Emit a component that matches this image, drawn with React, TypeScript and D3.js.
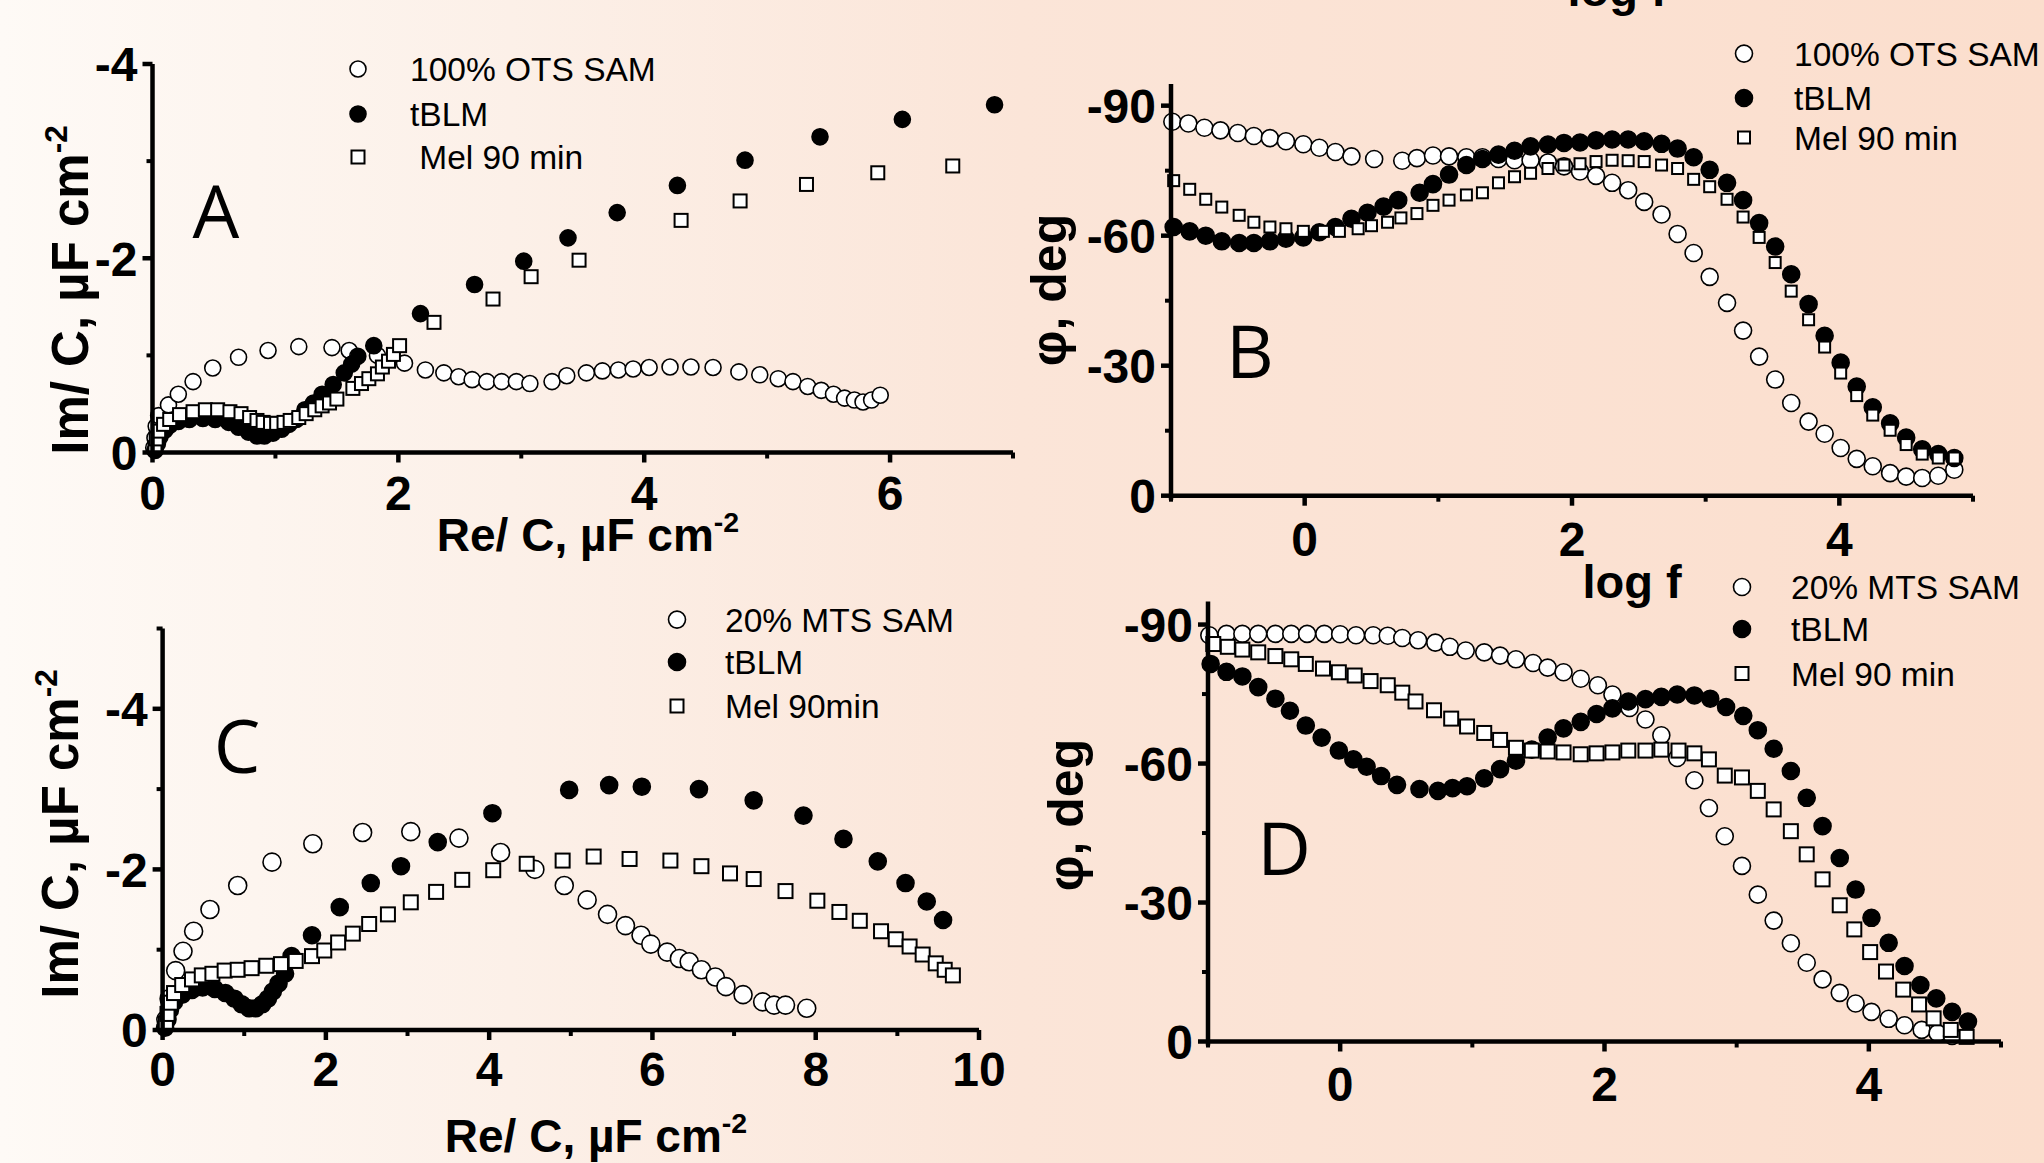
import * as d3 from "d3";

type Pt = [number, number];

// ---- panel A: Cole-Cole, 100% OTS SAM ----
const aOts: Pt[] = [[0.01,-0.05],[0.02,-0.15],[0.03,-0.27],[0.05,-0.38],[0.13,-0.49],[0.21,-0.6],[0.33,-0.73],[0.49,-0.87],[0.7,-0.98],[0.94,-1.05],[1.19,-1.09],[1.46,-1.08],[1.6,-1.05],[1.83,-1.0],[2.05,-0.92],[2.22,-0.85],[2.37,-0.82],[2.49,-0.78],[2.6,-0.75],[2.72,-0.73],[2.84,-0.73],[2.96,-0.73],[3.07,-0.71],[3.25,-0.73],[3.37,-0.79],[3.53,-0.82],[3.66,-0.84],[3.79,-0.85],[3.91,-0.86],[4.04,-0.875],[4.21,-0.88],[4.38,-0.88],[4.56,-0.875],[4.77,-0.83],[4.94,-0.8],[5.09,-0.76],[5.21,-0.73],[5.33,-0.68],[5.44,-0.64],[5.54,-0.6],[5.63,-0.56],[5.71,-0.54],[5.78,-0.52],[5.85,-0.54],[5.92,-0.59]];
const aTblm: Pt[] = [[0.02,-0.02],[0.04,-0.09],[0.06,-0.16],[0.1,-0.23],[0.14,-0.28],[0.21,-0.32],[0.3,-0.34],[0.41,-0.35],[0.51,-0.34],[0.62,-0.31],[0.7,-0.26],[0.78,-0.21],[0.85,-0.17],[0.91,-0.17],[0.98,-0.2],[1.05,-0.24],[1.11,-0.29],[1.17,-0.34],[1.24,-0.44],[1.31,-0.51],[1.38,-0.6],[1.47,-0.7],[1.56,-0.82],[1.62,-0.91],[1.67,-0.99],[1.8,-1.1],[2.18,-1.43],[2.62,-1.73],[3.02,-1.97],[3.38,-2.21],[3.78,-2.47],[4.27,-2.75],[4.82,-3.01],[5.43,-3.25],[6.1,-3.43],[6.85,-3.58]];
const aMel: Pt[] = [[0.02,-0.05],[0.03,-0.14],[0.05,-0.22],[0.09,-0.29],[0.14,-0.34],[0.22,-0.39],[0.33,-0.42],[0.43,-0.44],[0.53,-0.44],[0.63,-0.42],[0.72,-0.4],[0.79,-0.36],[0.85,-0.33],[0.9,-0.31],[0.96,-0.3],[1.01,-0.3],[1.07,-0.31],[1.12,-0.33],[1.19,-0.36],[1.25,-0.4],[1.32,-0.44],[1.38,-0.48],[1.44,-0.51],[1.5,-0.55],[1.63,-0.66],[1.7,-0.71],[1.76,-0.76],[1.83,-0.81],[1.87,-0.88],[1.92,-0.94],[1.96,-1.01],[2.01,-1.1],[2.29,-1.34],[2.77,-1.58],[3.08,-1.81],[3.47,-1.98],[4.3,-2.39],[4.78,-2.59],[5.32,-2.76],[5.9,-2.88],[6.51,-2.95]];

// ---- panel B: phase vs log f, 100% OTS SAM ----
const bOts: Pt[] = [[-0.99,-86.3],[-0.87,-85.9],[-0.75,-84.9],[-0.63,-84.3],[-0.5,-83.7],[-0.38,-83.0],[-0.26,-82.5],[-0.14,-81.8],[-0.01,-81.1],[0.11,-80.3],[0.23,-79.3],[0.35,-78.3],[0.52,-77.7],[0.73,-77.3],[0.84,-77.9],[0.96,-78.5],[1.08,-78.3],[1.21,-78.1],[1.33,-78.1],[1.45,-77.7],[1.57,-77.4],[1.69,-77.4],[1.82,-76.9],[1.94,-76.0],[2.06,-74.8],[2.18,-73.8],[2.3,-72.2],[2.42,-70.5],[2.54,-67.8],[2.67,-64.9],[2.79,-60.4],[2.91,-56.0],[3.03,-50.5],[3.16,-44.5],[3.28,-38.1],[3.4,-32.1],[3.52,-26.8],[3.64,-21.4],[3.77,-17.1],[3.89,-14.3],[4.01,-11.0],[4.13,-8.5],[4.25,-6.8],[4.38,-5.2],[4.5,-4.4],[4.62,-4.1],[4.74,-4.6],[4.86,-6.0]];
const bTblm: Pt[] = [[-0.98,-62.0],[-0.86,-61.0],[-0.74,-60.0],[-0.62,-58.7],[-0.49,-58.3],[-0.38,-58.3],[-0.26,-58.7],[-0.14,-59.3],[-0.01,-59.6],[0.11,-60.8],[0.23,-62.0],[0.35,-63.9],[0.47,-65.3],[0.59,-66.7],[0.7,-68.2],[0.86,-69.9],[0.96,-71.9],[1.08,-74.1],[1.21,-76.3],[1.33,-77.7],[1.45,-78.7],[1.57,-79.6],[1.69,-80.6],[1.82,-81.0],[1.94,-81.4],[2.06,-81.5],[2.18,-82.0],[2.3,-82.2],[2.42,-82.2],[2.54,-81.8],[2.67,-81.2],[2.79,-80.1],[2.91,-78.1],[3.03,-75.2],[3.16,-72.2],[3.28,-68.2],[3.4,-62.9],[3.52,-57.5],[3.64,-51.1],[3.77,-44.2],[3.89,-36.9],[4.01,-30.7],[4.13,-25.2],[4.25,-20.4],[4.38,-16.7],[4.5,-13.4],[4.62,-10.7],[4.74,-9.6],[4.86,-8.7]];
const bMel: Pt[] = [[-0.98,-72.7],[-0.86,-70.7],[-0.74,-68.4],[-0.62,-66.6],[-0.49,-64.7],[-0.38,-63.1],[-0.26,-62.0],[-0.14,-61.6],[-0.01,-61.0],[0.14,-61.0],[0.26,-61.0],[0.4,-61.6],[0.5,-62.3],[0.62,-63.1],[0.72,-64.1],[0.84,-65.1],[0.96,-67.0],[1.08,-68.2],[1.21,-69.4],[1.33,-69.9],[1.45,-72.2],[1.57,-73.6],[1.69,-74.4],[1.82,-75.5],[1.94,-76.3],[2.06,-76.6],[2.18,-77.1],[2.3,-77.4],[2.42,-77.3],[2.54,-77.1],[2.67,-76.3],[2.79,-75.5],[2.91,-73.0],[3.03,-71.3],[3.16,-68.4],[3.28,-64.3],[3.4,-59.6],[3.52,-53.8],[3.64,-47.2],[3.77,-40.6],[3.89,-34.3],[4.01,-28.3],[4.13,-23.1],[4.25,-18.6],[4.38,-15.1],[4.5,-11.8],[4.62,-9.6],[4.74,-8.7],[4.86,-8.7]];

// ---- panel C: Cole-Cole, 20% MTS SAM ----
const cMts: Pt[] = [[0.04,-0.13],[0.08,-0.39],[0.16,-0.74],[0.25,-0.98],[0.38,-1.23],[0.58,-1.5],[0.92,-1.8],[1.34,-2.09],[1.84,-2.32],[2.45,-2.46],[3.04,-2.47],[3.63,-2.39],[4.14,-2.21],[4.56,-2.0],[4.92,-1.8],[5.2,-1.62],[5.45,-1.44],[5.67,-1.3],[5.86,-1.18],[5.98,-1.07],[6.18,-0.97],[6.33,-0.89],[6.45,-0.85],[6.6,-0.75],[6.77,-0.66],[6.9,-0.54],[7.11,-0.44],[7.35,-0.35],[7.49,-0.31],[7.63,-0.31],[7.89,-0.27]];
const cTblm: Pt[] = [[0.03,-0.03],[0.06,-0.13],[0.09,-0.25],[0.14,-0.35],[0.24,-0.44],[0.36,-0.5],[0.49,-0.53],[0.64,-0.51],[0.77,-0.46],[0.88,-0.39],[0.97,-0.32],[1.06,-0.27],[1.14,-0.27],[1.22,-0.32],[1.29,-0.39],[1.35,-0.48],[1.42,-0.58],[1.5,-0.7],[1.58,-0.92],[1.83,-1.18],[2.17,-1.53],[2.55,-1.83],[2.92,-2.04],[3.37,-2.34],[4.04,-2.7],[4.98,-2.99],[5.47,-3.05],[5.87,-3.03],[6.57,-3.0],[7.24,-2.86],[7.85,-2.67],[8.34,-2.38],[8.76,-2.1],[9.1,-1.83],[9.36,-1.6],[9.56,-1.37]];
const cMel: Pt[] = [[0.04,-0.08],[0.06,-0.2],[0.1,-0.34],[0.14,-0.46],[0.24,-0.56],[0.36,-0.63],[0.48,-0.68],[0.61,-0.7],[0.76,-0.74],[0.92,-0.75],[1.09,-0.77],[1.27,-0.8],[1.45,-0.82],[1.63,-0.86],[1.83,-0.92],[1.98,-0.99],[2.15,-1.09],[2.33,-1.2],[2.53,-1.32],[2.76,-1.44],[3.04,-1.59],[3.35,-1.72],[3.67,-1.87],[4.05,-1.99],[4.46,-2.07],[4.9,-2.11],[5.28,-2.16],[5.72,-2.13],[6.22,-2.11],[6.6,-2.04],[6.95,-1.95],[7.24,-1.88],[7.63,-1.73],[8.02,-1.61],[8.29,-1.47],[8.54,-1.36],[8.8,-1.23],[8.98,-1.13],[9.15,-1.04],[9.31,-0.94],[9.47,-0.83],[9.58,-0.75],[9.68,-0.68]];

// ---- panel D: phase vs log f, 20% MTS SAM ----
const dMts: Pt[] = [[-0.99,-87.7],[-0.86,-88.0],[-0.74,-88.0],[-0.62,-88.0],[-0.49,-88.0],[-0.37,-88.0],[-0.25,-88.0],[-0.12,-88.0],[0.0,-87.9],[0.12,-87.7],[0.25,-87.7],[0.36,-87.6],[0.47,-87.1],[0.59,-86.6],[0.72,-86.1],[0.83,-85.2],[0.95,-84.4],[1.09,-84.0],[1.21,-83.3],[1.33,-82.5],[1.46,-81.7],[1.57,-80.7],[1.69,-79.7],[1.82,-78.3],[1.95,-76.9],[2.06,-74.9],[2.19,-72.0],[2.31,-69.5],[2.43,-66.1],[2.55,-61.2],[2.68,-56.4],[2.79,-50.4],[2.91,-44.3],[3.04,-37.9],[3.16,-31.7],[3.28,-26.1],[3.41,-21.2],[3.53,-17.0],[3.65,-13.4],[3.78,-10.5],[3.9,-8.2],[4.02,-6.4],[4.15,-4.9],[4.27,-3.5],[4.4,-2.5],[4.52,-1.8],[4.63,-1.2]];
const dTblm: Pt[] = [[-0.98,-81.5],[-0.86,-79.8],[-0.74,-78.8],[-0.62,-76.5],[-0.49,-74.0],[-0.38,-71.4],[-0.26,-68.2],[-0.14,-65.6],[-0.01,-62.8],[0.1,-60.9],[0.2,-59.3],[0.31,-57.3],[0.43,-55.4],[0.6,-54.5],[0.74,-54.1],[0.85,-54.7],[0.96,-55.1],[1.09,-56.8],[1.21,-58.8],[1.33,-60.6],[1.45,-63.0],[1.57,-65.6],[1.69,-67.6],[1.82,-69.0],[1.94,-70.7],[2.06,-71.9],[2.18,-73.4],[2.31,-73.9],[2.43,-74.4],[2.55,-74.9],[2.68,-74.7],[2.8,-74.0],[2.92,-72.2],[3.05,-70.3],[3.16,-67.2],[3.28,-63.2],[3.41,-58.4],[3.53,-52.6],[3.65,-46.5],[3.78,-39.6],[3.9,-32.8],[4.02,-26.7],[4.15,-21.3],[4.27,-16.3],[4.39,-12.2],[4.51,-9.3],[4.63,-6.4],[4.75,-4.3]];
const dMel: Pt[] = [[-0.96,-85.8],[-0.85,-85.2],[-0.74,-84.6],[-0.62,-84.0],[-0.49,-83.2],[-0.37,-82.5],[-0.26,-81.5],[-0.13,-80.5],[-0.01,-79.7],[0.11,-79.0],[0.23,-77.8],[0.36,-76.9],[0.47,-75.3],[0.57,-73.4],[0.71,-71.5],[0.84,-69.7],[0.96,-68.0],[1.09,-66.6],[1.21,-65.1],[1.33,-63.4],[1.45,-62.8],[1.57,-62.6],[1.69,-62.4],[1.82,-62.0],[1.94,-62.2],[2.06,-62.4],[2.18,-62.8],[2.31,-62.8],[2.43,-63.0],[2.56,-62.8],[2.68,-62.2],[2.79,-60.9],[2.91,-57.4],[3.04,-57.0],[3.16,-54.1],[3.28,-50.1],[3.41,-45.4],[3.53,-40.4],[3.65,-35.0],[3.78,-29.4],[3.89,-24.2],[4.01,-19.3],[4.13,-15.1],[4.26,-11.2],[4.38,-8.0],[4.49,-5.0],[4.62,-2.5],[4.74,-1.0]];

const legendA = ["100% OTS SAM", "tBLM", " Mel 90 min"];
const legendB = ["100% OTS SAM", "tBLM", "Mel 90 min"];
const legendC = ["20% MTS SAM", "tBLM", "Mel 90min"];
const legendD = ["20% MTS SAM", "tBLM", "Mel 90 min"];

const nyqXTicksA = [0, 2, 4, 6];
const nyqXMinorA = [1, 3, 5, 7];
const nyqYTicksA = [0, -2, -4];
const nyqYMinorA = [-1, -3];
const nyqXTicksC = [0, 2, 4, 6, 8, 10];
const nyqXMinorC = [1, 3, 5, 7, 9];
const nyqYTicksC = [0, -2, -4];
const nyqYMinorC = [-1, -3, -5];
const logTicks = [0, 2, 4];
const logMinor = [-1, 1, 3, 5];
const phaseTicks = [0, -30, -60, -90];
const phaseMinor = [-15, -45, -75];

type Kind = "open" | "filled" | "square";

interface PanelProps {
  px: [number, number];
  py: [number, number];
  xDomain: [number, number];
  yDomain: [number, number];
  xTicks: number[];
  xMinor: number[];
  yTicks: number[];
  yMinor: number[];
  series: { data: Pt[]; kind: Kind; size: number }[];
  tickSize: number;
  tickSx: number;
  xLabelDy: number;
}

const FONT = "Liberation Sans, Arial, sans-serif";

function Marker({ kind, x, y, size }: { kind: Kind; x: number; y: number; size: number }) {
  if (kind === "square")
    return <rect x={x - size / 2} y={y - size / 2} width={size} height={size} fill="#fff" stroke="#000" strokeWidth={2} />;
  return <circle cx={x} cy={y} r={size / 2} fill={kind === "filled" ? "#000" : "#fff"} stroke="#000" strokeWidth={1.6} />;
}

function Panel(p: PanelProps) {
  const x = d3.scaleLinear().domain(p.xDomain).range(p.px);
  const y = d3.scaleLinear().domain(p.yDomain).range(p.py);
  const ax = p.px[0];
  const ay = p.py[0];
  return (
    <g>
      {p.series.map((s, i) => (
        <g key={i}>
          {s.data.map((d, j) => (
            <Marker key={j} kind={s.kind} x={x(d[0])} y={y(d[1])} size={s.size} />
          ))}
        </g>
      ))}
      <line x1={ax} x2={p.px[1]} y1={ay} y2={ay} stroke="#000" strokeWidth={4.5} />
      <line x1={ax} x2={ax} y1={ay + 4} y2={p.py[1]} stroke="#000" strokeWidth={4.5} />
      {p.xTicks.map(t => (
        <g key={"xt" + t}>
          <line x1={x(t)} x2={x(t)} y1={ay} y2={ay + 10} stroke="#000" strokeWidth={4.5} />
          <text transform={`translate(${x(t)},${ay + p.xLabelDy}) scale(${p.tickSx},1)`} textAnchor="middle"
            fontSize={p.tickSize} fontWeight={700} fontFamily={FONT}>{String(t)}</text>
        </g>
      ))}
      {p.xMinor.map(t => (
        <line key={"xm" + t} x1={x(t)} x2={x(t)} y1={ay} y2={ay + 6} stroke="#000" strokeWidth={4} />
      ))}
      {p.yTicks.map(t => (
        <g key={"yt" + t}>
          <line x1={ax - 10} x2={ax} y1={y(t)} y2={y(t)} stroke="#000" strokeWidth={4.5} />
          <text transform={`translate(${ax - 15},${y(t) + p.tickSize * 0.36}) scale(${p.tickSx},1)`} textAnchor="end"
            fontSize={p.tickSize} fontWeight={700} fontFamily={FONT}>{String(t)}</text>
        </g>
      ))}
      {p.yMinor.map(t => (
        <line key={"ym" + t} x1={ax - 6} x2={ax} y1={y(t)} y2={y(t)} stroke="#000" strokeWidth={4} />
      ))}
    </g>
  );
}

function Legend({ x, tx, ys, labels, sizes }: { x: number; tx: number; ys: number[]; labels: string[]; sizes: number[] }) {
  const kinds: Kind[] = ["open", "filled", "square"];
  return (
    <g>
      {labels.map((l, i) => (
        <g key={i}>
          <Marker kind={kinds[i]} x={x} y={ys[i]} size={sizes[i]} />
          <text x={tx} y={ys[i] + 12} fontSize={33.5} fontFamily={FONT}
            style={{ whiteSpace: "pre" }}>{l}</text>
        </g>
      ))}
    </g>
  );
}

function BoldLabel({ x, y, rotate = 0, size = 46, sx = 1, text, sup }: { x: number; y: number; rotate?: number; size?: number; sx?: number; text: string; sup?: string }) {
  return (
    <text transform={`translate(${x},${y}) rotate(${rotate}) scale(${sx},1)`} textAnchor="middle" fontSize={size}
      fontWeight={700} fontFamily={FONT}>
      {text}
      {sup && <tspan fontSize={size * 0.62} dy={-size * 0.42}>{sup}</tspan>}
    </text>
  );
}

function Letter({ x, y, c }: { x: number; y: number; c: string }) {
  return <text x={x} y={y} textAnchor="middle" fontSize={74} fontFamily="Open Sans, sans-serif">{c}</text>;
}

export default function App() {
  const W = 2044, H = 1163;
  return (
    <svg width={W} height={H} style={{ position: "absolute", left: 0, top: 0 }}>
      <defs>
        <linearGradient id="bg" x1="0" x2="1" y1="0" y2="0">
          <stop offset="0" stopColor="#fefaf6" />
          <stop offset="0.25" stopColor="#fcf0e8" />
          <stop offset="0.5" stopColor="#fbe5d8" />
          <stop offset="1" stopColor="#fbdecd" />
        </linearGradient>
      </defs>
      <rect width={W} height={H} fill="url(#bg)" />

      <Panel px={[152.5, 1013]} py={[452.5, 64]} xDomain={[0, 7]} yDomain={[0, -4]}
        xTicks={nyqXTicksA} xMinor={nyqXMinorA} yTicks={nyqYTicksA} yMinor={nyqYMinorA}
        tickSize={48} tickSx={1} xLabelDy={57}
        series={[{ data: aOts, kind: "open", size: 16 }, { data: aTblm, kind: "filled", size: 16 }, { data: aMel, kind: "square", size: 13 }]} />
      <Panel px={[1171, 1973]} py={[495.7, 84]} xDomain={[-1, 5]} yDomain={[0, -95]}
        xTicks={logTicks} xMinor={logMinor} yTicks={phaseTicks} yMinor={phaseMinor}
        tickSize={48} tickSx={1} xLabelDy={60}
        series={[{ data: bOts, kind: "open", size: 17 }, { data: bTblm, kind: "filled", size: 17 }, { data: bMel, kind: "square", size: 11 }]} />
      <Panel px={[162.6, 979]} py={[1030, 628.5]} xDomain={[0, 10]} yDomain={[0, -5]}
        xTicks={nyqXTicksC} xMinor={nyqXMinorC} yTicks={nyqYTicksC} yMinor={nyqYMinorC}
        tickSize={48} tickSx={1} xLabelDy={56}
        series={[{ data: cMts, kind: "open", size: 18 }, { data: cTblm, kind: "filled", size: 17 }, { data: cMel, kind: "square", size: 14 }]} />
      <Panel px={[1208, 2001]} py={[1041.5, 601.4]} xDomain={[-1, 5]} yDomain={[0, -95]}
        xTicks={logTicks} xMinor={logMinor} yTicks={phaseTicks} yMinor={phaseMinor}
        tickSize={48} tickSx={1} xLabelDy={59}
        series={[{ data: dMts, kind: "open", size: 17 }, { data: dTblm, kind: "filled", size: 17 }, { data: dMel, kind: "square", size: 14 }]} />

      <Legend x={358} tx={410} ys={[69, 114, 157]} labels={legendA} sizes={[16, 16, 13]} />
      <Legend x={1744} tx={1794} ys={[53.6, 98, 137.5]} labels={legendB} sizes={[17, 17, 12]} />
      <Legend x={677} tx={725} ys={[619.6, 662, 706]} labels={legendC} sizes={[17, 17, 13]} />
      <Legend x={1742} tx={1791} ys={[587, 629, 673.5]} labels={legendD} sizes={[17, 17, 13]} />

      <BoldLabel x={588} y={551} text="Re/ C, µF cm" sup="-2" />
      <BoldLabel x={596} y={1152} text="Re/ C, µF cm" sup="-2" />
      <BoldLabel x={88} y={290} rotate={-90} size={51} text="Im/ C, µF cm" sup="-2" />
      <BoldLabel x={78} y={834} rotate={-90} size={51} text="Im/ C, µF cm" sup="-2" />
      <BoldLabel x={1066} y={290} rotate={-90} size={50} text="φ, deg" />
      <BoldLabel x={1083} y={815} rotate={-90} size={50} text="φ, deg" />
      <BoldLabel x={1617} y={6} size={47} text="log f" />
      <BoldLabel x={1632} y={598} size={47} text="log f" />

      <Letter x={216} y={238} c="A" />
      <Letter x={1250} y={378} c="B" />
      <Letter x={237} y={773} c="C" />
      <Letter x={1284} y={875} c="D" />
    </svg>
  );
}
